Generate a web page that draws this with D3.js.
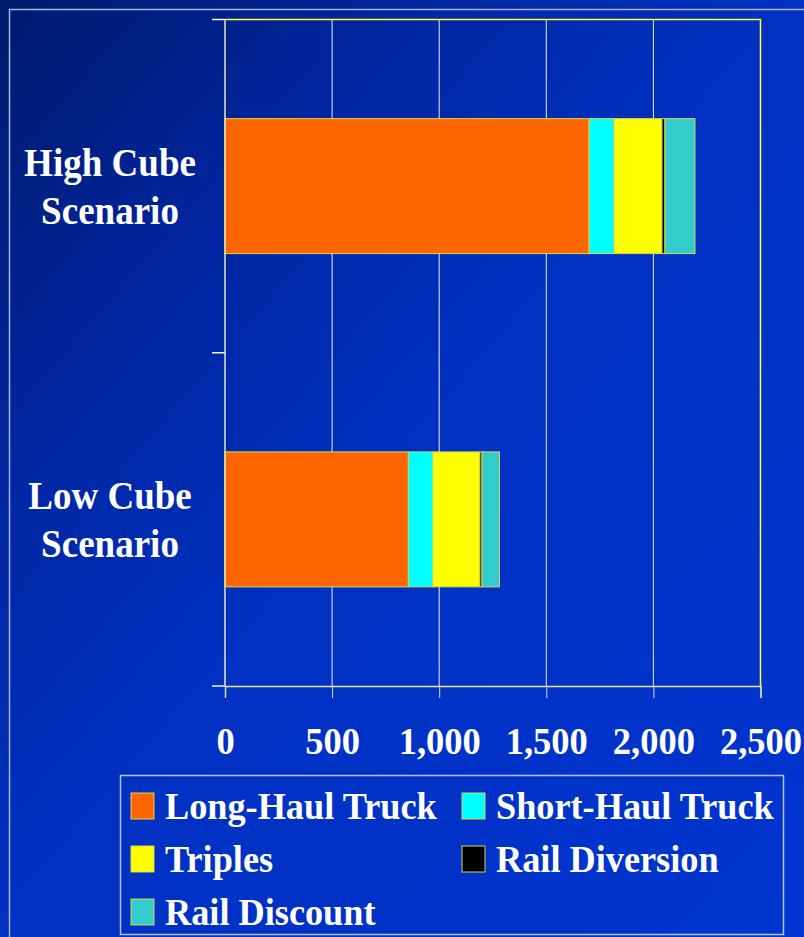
<!DOCTYPE html>
<html>
<head>
<meta charset="utf-8">
<script src="https://cdn.jsdelivr.net/npm/d3@7"></script>
<style>
  html, body { margin: 0; padding: 0; background: #0030c0; }
  svg { display: block; }
  text { font-family: "Liberation Serif", "Times New Roman", serif; font-weight: bold; fill: #fff; }
</style>
</head>
<body>
<svg id="chart" width="804" height="937"></svg>
<script>
// categories, top to bottom
const scenarios = ["High Cube Scenario", "Low Cube Scenario"];
const labelLines = [["High Cube", "Scenario"], ["Low Cube", "Scenario"]];

const seriesNames = ["Long-Haul Truck", "Short-Haul Truck", "Triples", "Rail Diversion", "Rail Discount"];
const seriesColors = ["#ff6600", "#00ffff", "#ffff00", "#000000", "#33cccc"];

// values, one entry per scenario
const longHaul  = [1700, 856];
const shortHaul = [117, 115];
const triples   = [223, 219];
const railDiv   = [14, 10];
const railDisc  = [140, 81];

const xTicks = [0, 500, 1000, 1500, 2000, 2500];

const table = scenarios.map((s, i) => ({
    scenario: s,
    "Long-Haul Truck": longHaul[i],
    "Short-Haul Truck": shortHaul[i],
    "Triples": triples[i],
    "Rail Diversion": railDiv[i],
    "Rail Discount": railDisc[i]
}));

const svg = d3.select("#chart");
const W = 804, H = 937;
const plotLeft = 225, plotRight = 760.5, plotTop = 19.5, plotBottom = 686;

// background gradient, dark navy in the top left corner
const defs = svg.append("defs");
const grad = defs.append("linearGradient")
    .attr("id", "bg")
    .attr("x1", "0%").attr("y1", "0%")
    .attr("x2", "100%").attr("y2", "100%");
grad.append("stop").attr("offset", "0%").attr("stop-color", "#001a6c");
grad.append("stop").attr("offset", "25%").attr("stop-color", "#0026a0");
grad.append("stop").attr("offset", "50%").attr("stop-color", "#0031c2");
grad.append("stop").attr("offset", "100%").attr("stop-color", "#0034d0");

svg.append("rect").attr("width", W).attr("height", H).attr("fill", "url(#bg)");

// outer frame
svg.append("path")
    .attr("d", `M9.5,${H} V9.5 H${W}`)
    .attr("fill", "none")
    .attr("stroke", "#a8b4e0")
    .attr("stroke-width", 1.5);

const x = d3.scaleLinear().domain([0, 2500]).range([plotLeft, plotRight]);
const y = d3.scaleBand().domain(scenarios).range([plotTop, plotBottom])
    .paddingInner(0.595).paddingOuter(0.2975);

// gridlines
svg.append("g")
    .selectAll("line")
    .data(xTicks.slice(1, -1))
    .join("line")
    .attr("x1", d => x(d)).attr("x2", d => x(d))
    .attr("y1", plotTop).attr("y2", plotBottom)
    .attr("stroke", "#e8ecf8")
    .attr("stroke-width", 1);

// top and right border of plot (yellow)
svg.append("path")
    .attr("d", `M${plotLeft},${plotTop} H${plotRight} V${plotBottom}`)
    .attr("fill", "none")
    .attr("stroke", "#ffff33")
    .attr("stroke-width", 1.5);

// stacked bars
const stack = d3.stack().keys(seriesNames);
const layers = stack(table);

svg.append("g")
    .selectAll("g")
    .data(layers)
    .join("g")
    .attr("fill", (d, i) => seriesColors[i])
    .selectAll("rect")
    .data(d => d)
    .join("rect")
    .attr("x", d => x(d[0]))
    .attr("y", d => y(d.data.scenario))
    .attr("width", d => x(d[1]) - x(d[0]))
    .attr("height", y.bandwidth())
    .attr("stroke", "#d8d850")
    .attr("stroke-width", 1);

// x axis
const xAxis = svg.append("g")
    .attr("transform", `translate(0,${plotBottom})`)
    .call(d3.axisBottom(x).tickValues(xTicks).tickSize(12).tickFormat(d3.format(",")));
xAxis.select(".domain").attr("stroke", "#e8e8b0").attr("stroke-width", 1.5);
xAxis.selectAll(".tick line").attr("stroke", "#d0d8f0");
xAxis.selectAll(".tick text")
    .attr("y", 0).attr("dy", null)
    .attr("transform", "translate(0,68) scale(0.96,1.02)")
    .style("font-size", "38px")
    .style("font-family", "Liberation Serif, Times New Roman, serif")
    .style("font-weight", "bold")
    .attr("fill", "#fff");

// y axis: line and ticks at category boundaries
const yBounds = [plotTop, (plotTop + plotBottom) / 2, plotBottom];
svg.append("line")
    .attr("x1", plotLeft).attr("x2", plotLeft)
    .attr("y1", plotTop).attr("y2", plotBottom)
    .attr("stroke", "#e8e8b0").attr("stroke-width", 1.5);
svg.append("g")
    .selectAll("line")
    .data(yBounds)
    .join("line")
    .attr("x1", plotLeft - 13).attr("x2", plotLeft)
    .attr("y1", d => d).attr("y2", d => d)
    .attr("stroke", "#f0f4ff").attr("stroke-width", 1.5);

// category labels
svg.append("g")
    .selectAll("text")
    .data(scenarios)
    .join("text")
    .attr("text-anchor", "middle")
    .style("font-size", "39px")
    .each(function (d, i) {
        const cy = y(d) + y.bandwidth() / 2;
        const t = d3.select(this)
            .attr("transform", `translate(110,${cy}) scale(0.95,1)`);
        t.selectAll("tspan")
            .data(labelLines[i])
            .join("tspan")
            .attr("x", 0)
            .attr("y", (s, j) => -10 + j * 48)
            .text(s => s);
    });

// legend
const lg = svg.append("g");
lg.append("rect")
    .attr("x", 120.5).attr("y", 775.5)
    .attr("width", 663).attr("height", 159)
    .attr("fill", "none")
    .attr("stroke", "#b8c0e8")
    .attr("stroke-width", 1.5);

const legendPos = [[131, 0], [462, 0], [131, 1], [462, 1], [131, 2]];
const items = lg.selectAll("g.item")
    .data(seriesNames)
    .join("g")
    .attr("class", "item")
    .attr("transform", (d, i) => `translate(${legendPos[i][0]},${793 + legendPos[i][1] * 53})`);
items.append("rect")
    .attr("width", 23).attr("height", 26)
    .attr("fill", (d, i) => seriesColors[i])
    .attr("stroke", "#d8d850")
    .attr("stroke-width", 1);
items.append("text")
    .attr("transform", "translate(34,26) scale(0.98,1)")
    .style("font-size", "37px")
    .text(d => d);
</script>
</body>
</html>
